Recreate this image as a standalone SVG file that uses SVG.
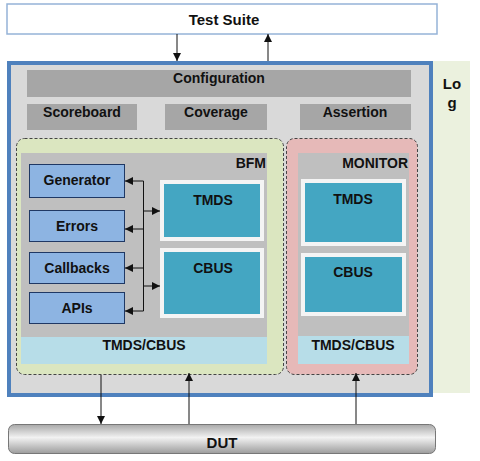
<svg xmlns="http://www.w3.org/2000/svg" width="480" height="461" viewBox="0 0 480 461">
<style>
text{font-family:"Liberation Sans",Arial,sans-serif;font-weight:bold;fill:#111;}
.t12{font-size:14px}
.gbar{fill:#a6a6a6}
.blue{fill:#8db4e2;stroke:#1f3864;stroke-width:1}
.white{fill:#f4f4f4}
.teal{fill:#44a6c2}
.lb{fill:#b7dde8}
.ink{stroke:#111;stroke-width:1;fill:none}
</style>
<defs>
<marker id="ah" viewBox="0 0 10 10" refX="10" refY="5" markerWidth="8" markerHeight="8" markerUnits="userSpaceOnUse" orient="auto">
<path d="M0,0 L10,5 L0,10 z" fill="#111"/>
</marker>
<linearGradient id="dutg" x1="0" y1="0" x2="0" y2="1">
<stop offset="0" stop-color="#a8a8a8"/>
<stop offset="0.45" stop-color="#f2f2f2"/>
<stop offset="1" stop-color="#9c9c9c"/>
</linearGradient>
</defs>

<g id="test-suite">
<rect x="7" y="4" width="430" height="30" fill="#fff" stroke="#95b3d7" stroke-width="1.5"/>
<text x="224" y="25" text-anchor="middle" font-size="15">Test Suite</text>
</g>

<g id="log">
<rect x="432" y="61" width="38" height="332" fill="#ebf1de"/>
<text x="452" y="89" text-anchor="middle" font-size="15">Lo</text>
<text x="452" y="108" text-anchor="middle" font-size="15">g</text>
</g>

<g id="env">
<rect x="9" y="63" width="422" height="332" fill="#d9d9d9" stroke="#4f81bd" stroke-width="4"/>
</g>

<g id="configuration">
<rect class="gbar" x="27" y="70" width="384" height="27"/>
<text class="t12" x="219" y="83" text-anchor="middle">Configuration</text>
</g>
<g id="scoreboard">
<rect class="gbar" x="27" y="104" width="110" height="26"/>
<text class="t12" x="82" y="117" text-anchor="middle">Scoreboard</text>
</g>
<g id="coverage">
<rect class="gbar" x="165" y="104" width="102" height="26"/>
<text class="t12" x="216" y="117" text-anchor="middle">Coverage</text>
</g>
<g id="assertion">
<rect class="gbar" x="300" y="104" width="111" height="26"/>
<text class="t12" x="355" y="117" text-anchor="middle">Assertion</text>
</g>

<g id="bfm">
<rect x="16.5" y="138.5" width="267" height="236" rx="8" fill="#dbe6c0" stroke="#444" stroke-width="1" stroke-dasharray="3,2"/>
<rect x="21" y="153" width="246" height="184" fill="#bfbfbf"/>
<rect class="lb" x="21" y="337" width="246" height="27"/>
<text class="t12" x="266" y="168" text-anchor="end">BFM</text>
<text class="t12" x="144" y="350" text-anchor="middle">TMDS/CBUS</text>
</g>

<g id="generator">
<rect class="blue" x="29.5" y="164.5" width="95" height="33"/>
<text class="t12" x="77" y="185" text-anchor="middle">Generator</text>
</g>
<g id="errors">
<rect class="blue" x="29.5" y="210.5" width="95" height="31"/>
<text class="t12" x="77" y="231" text-anchor="middle">Errors</text>
</g>
<g id="callbacks">
<rect class="blue" x="29.5" y="252.5" width="95" height="31"/>
<text class="t12" x="77" y="273" text-anchor="middle">Callbacks</text>
</g>
<g id="apis">
<rect class="blue" x="29.5" y="292.5" width="95" height="31"/>
<text class="t12" x="77" y="313" text-anchor="middle">APIs</text>
</g>

<g id="bfm-tmds">
<rect class="white" x="160" y="180" width="104" height="61"/>
<rect class="teal" x="164" y="184" width="96" height="53"/>
<text class="t12" x="213" y="205" text-anchor="middle">TMDS</text>
</g>
<g id="bfm-cbus">
<rect class="white" x="160" y="248" width="104" height="70"/>
<rect class="teal" x="164" y="252" width="96" height="62"/>
<text class="t12" x="213" y="273" text-anchor="middle">CBUS</text>
</g>

<g id="monitor">
<rect x="286.5" y="138.5" width="131" height="236" rx="8" fill="#e6b9b8" stroke="#444" stroke-width="1" stroke-dasharray="3,2"/>
<rect x="298" y="153" width="111" height="183" fill="#bfbfbf"/>
<rect class="lb" x="298" y="336" width="111" height="28"/>
<text class="t12" x="408" y="168" text-anchor="end">MONITOR</text>
<text class="t12" x="353" y="350" text-anchor="middle">TMDS/CBUS</text>
</g>
<g id="mon-tmds">
<rect class="white" x="301" y="179" width="105" height="67"/>
<rect class="teal" x="305" y="183" width="97" height="59"/>
<text class="t12" x="353" y="204" text-anchor="middle">TMDS</text>
</g>
<g id="mon-cbus">
<rect class="white" x="301" y="253" width="105" height="63"/>
<rect class="teal" x="305" y="257" width="97" height="55"/>
<text class="t12" x="353" y="277" text-anchor="middle">CBUS</text>
</g>

<g id="dut">
<rect x="8.5" y="424.5" width="427" height="29" rx="6" fill="url(#dutg)" stroke="#777" stroke-width="1"/>
<text x="222" y="448" text-anchor="middle" font-size="15">DUT</text>
</g>

<g id="connectors" class="ink">
<line x1="177" y1="34" x2="177" y2="61" marker-end="url(#ah)"/>
<line x1="268" y1="61" x2="268" y2="34" marker-end="url(#ah)"/>
<line x1="143.5" y1="181" x2="143.5" y2="311"/>
<line x1="143.5" y1="181" x2="125" y2="181" marker-end="url(#ah)"/>
<line x1="143.5" y1="229" x2="125" y2="229" marker-end="url(#ah)"/>
<line x1="143.5" y1="268" x2="125" y2="268" marker-end="url(#ah)"/>
<line x1="143.5" y1="311" x2="125" y2="311" marker-end="url(#ah)"/>
<line x1="143.5" y1="211" x2="160" y2="211" marker-end="url(#ah)"/>
<line x1="143.5" y1="286" x2="160" y2="286" marker-end="url(#ah)"/>
<line x1="101" y1="375" x2="101" y2="424" marker-end="url(#ah)"/>
<line x1="189" y1="424" x2="189" y2="373" marker-end="url(#ah)"/>
<line x1="356" y1="424" x2="356" y2="373" marker-end="url(#ah)"/>
</g>
</svg>
